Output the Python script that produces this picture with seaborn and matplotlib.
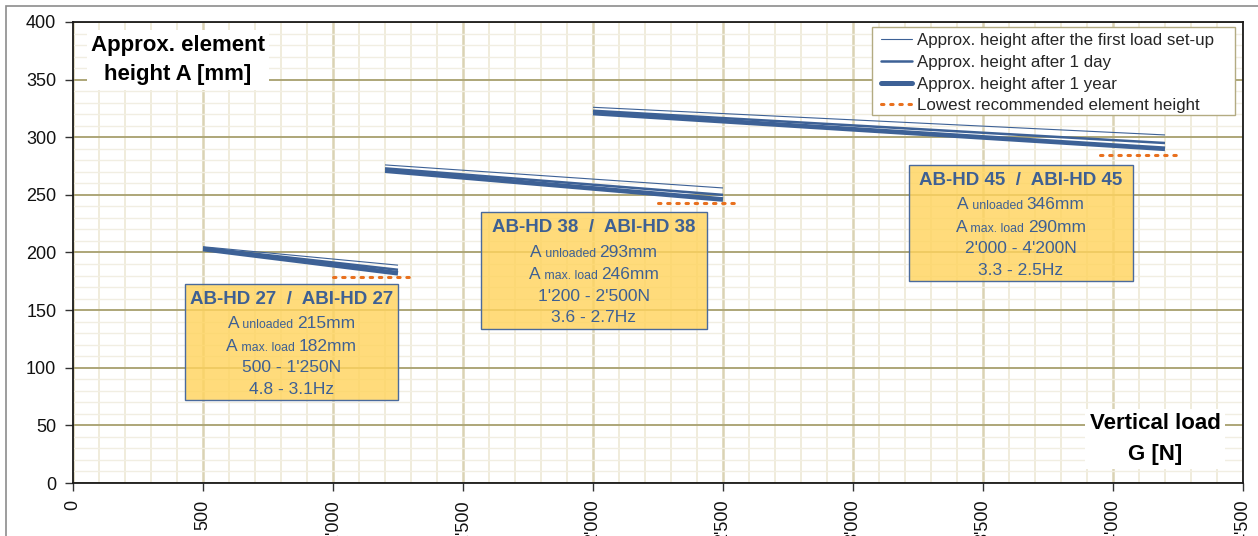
import matplotlib
matplotlib.use("Agg")
import matplotlib.pyplot as plt
import matplotlib.ticker as mticker
from matplotlib.patches import Rectangle
from matplotlib.lines import Line2D
import seaborn as sns
import pandas as pd

# ---------------- data ----------------
models = ["AB-HD 27  /  ABI-HD 27", "AB-HD 38  /  ABI-HD 38", "AB-HD 45  /  ABI-HD 45"]
load_start = [500, 1200, 2000]
load_end = [1250, 2500, 4200]
h_first_start = [205, 276, 326]
h_first_end = [189, 256, 302]
h_day_start = [204, 273, 323]
h_day_end = [185, 250, 295]
h_year_start = [203, 271, 321]
h_year_end = [182, 246, 290]
lowest_x0 = [1000, 2250, 3950]
lowest_x1 = [1300, 2550, 4250]
lowest_h = [179, 243, 285]

unloaded = ["215mm", "293mm", "346mm"]
maxload = ["182mm", "246mm", "290mm"]
load_range = ["500 - 1'250N", "1'200 - 2'500N", "2'000 - 4'200N"]
freq_range = ["4.8 - 3.1Hz", "3.6 - 2.7Hz", "3.3 - 2.5Hz"]
# info boxes (x0, x1, ytop, ybottom) in data units
box_x0 = [430, 1570, 3215]
box_x1 = [1250, 2437, 4075]
box_ytop = [173, 235, 276]
box_ybot = [72, 134, 175]

series_names = ["Approx. height after the first load set-up",
                "Approx. height after 1 day",
                "Approx. height after 1 year"]
lowest_name = "Lowest recommended element height"

x_ticks = [0, 500, 1000, 1500, 2000, 2500, 3000, 3500, 4000, 4500]
y_ticks = [0, 50, 100, 150, 200, 250, 300, 350, 400]

# ---------------- style ----------------
sns.set_style("white")
plt.rcParams["font.family"] = ["Liberation Sans", "DejaVu Sans"]

BLUE = "#3D6196"
ORANGE = "#E8701E"
TXT = "#3E6093"
W, H = 1258, 536

fig = plt.figure(figsize=(12.58, 5.36), dpi=100)
ax = fig.add_axes([73 / W, 1 - 483 / H, 1170 / W, 461 / H])

rows = []
starts = [h_first_start, h_day_start, h_year_start]
ends = [h_first_end, h_day_end, h_year_end]
for s, name in enumerate(series_names):
    for m in range(len(models)):
        rows.append(dict(series=name, model=m, load=load_start[m], h=starts[s][m]))
        rows.append(dict(series=name, model=m, load=load_end[m], h=ends[s][m]))
df = pd.DataFrame(rows)

widths = {series_names[0]: 0.8, series_names[1]: 1.8, series_names[2]: 3.4}
for name in series_names:
    sub = df[df.series == name]
    sns.lineplot(data=sub, x="load", y="h", units="model", estimator=None,
                 color=BLUE, lw=widths[name], ax=ax, legend=False, zorder=4,
                 solid_capstyle="butt")

low_rows = []
for m in range(len(models)):
    low_rows.append(dict(model=m, load=lowest_x0[m], h=lowest_h[m]))
    low_rows.append(dict(model=m, load=lowest_x1[m], h=lowest_h[m]))
ldf = pd.DataFrame(low_rows)
sns.lineplot(data=ldf, x="load", y="h", units="model", estimator=None,
             color=ORANGE, lw=2.2, ls=(0, (0.8, 2.2)), ax=ax, legend=False,
             zorder=4, dash_capstyle="round")

ax.set_xlim(0, 4500)
ax.set_ylim(0, 400)
ax.set_xlabel("")
ax.set_ylabel("")
ax.xaxis.set_major_locator(mticker.FixedLocator(x_ticks))
ax.yaxis.set_major_locator(mticker.FixedLocator(y_ticks))
ax.xaxis.set_minor_locator(mticker.MultipleLocator(100))
ax.yaxis.set_minor_locator(mticker.MultipleLocator(10))
ax.set_xticklabels([f"{v:,}".replace(",", "'") for v in x_ticks], rotation=90)
ax.tick_params(axis="both", which="major", labelsize=13, length=6, width=1,
               color="#333333", labelcolor="#111111", direction="out")
ax.tick_params(axis="y", which="major", pad=6, left=True)
ax.tick_params(axis="x", which="major", pad=6, bottom=True)
ax.tick_params(which="minor", length=0)

ax.grid(False)
ax.grid(axis="x", which="minor", color="#EEE9D6", lw=1.2, zorder=0)
ax.grid(axis="y", which="minor", color="#F1EEE2", lw=1.0, zorder=0)
ax.grid(axis="x", which="major", color="#DAD3B4", lw=1.8, zorder=0)
ax.grid(axis="y", which="major", color="#ADA678", lw=1.4, zorder=0)
ax.set_axisbelow(True)
for sp in ax.spines.values():
    sp.set_visible(True)
    sp.set_color("#1a1a1a")
    sp.set_linewidth(1.3)

# info boxes
fig.canvas.draw()
renderer = fig.canvas.get_renderer()
offsets = [15.5, 38.5, 61, 82.5, 104]
for m in range(len(models)):
    ax.add_patch(Rectangle((box_x0[m], box_ybot[m]), box_x1[m] - box_x0[m],
                           box_ytop[m] - box_ybot[m], facecolor="#FFD45E",
                           alpha=0.82, edgecolor="none", zorder=5))
    ax.add_patch(Rectangle((box_x0[m], box_ybot[m]), box_x1[m] - box_x0[m],
                           box_ytop[m] - box_ybot[m], facecolor="none",
                           edgecolor="#4A6A9C", lw=1.0, zorder=6))
    cx_disp, top_disp = ax.transData.transform(((box_x0[m] + box_x1[m]) / 2, box_ytop[m]))

    def place(parts, off):
        objs = []
        for t, sz in parts:
            o = ax.text(0, 0, t, fontsize=sz, color=TXT, ha="left", va="baseline",
                        transform=None, zorder=7)
            objs.append(o)
        ws = [o.get_window_extent(renderer).width for o in objs]
        total = sum(ws)
        x = cx_disp - total / 2
        for o, w in zip(objs, ws):
            o.set_position((x, top_disp - off - 6))
            x += w

    t = ax.text(0, 0, models[m], fontsize=13.5, fontweight="bold", color=TXT,
                ha="center", va="center", transform=None, zorder=7)
    t.set_position((cx_disp, top_disp - offsets[0]))
    place([("A", 12.5), (" unloaded ", 8.8), (unloaded[m], 12.5)], offsets[1])
    place([("A", 12.5), (" max. load ", 8.8), (maxload[m], 12.5)], offsets[2])
    place([(load_range[m], 12.5)], offsets[3])
    place([(freq_range[m], 12.5)], offsets[4])

# axis titles inside plot
ax.text((178 - 73) / 1170, (483 - 60) / 461,
        "Approx. element\nheight A [mm]", transform=ax.transAxes, fontsize=16,
        fontweight="bold", ha="center", va="center", linespacing=1.55,
        color="#000000", zorder=8,
        bbox=dict(facecolor="white", edgecolor="none", pad=3))
ax.text((1155 - 73) / 1170, (483 - 439) / 461, "Vertical load\nG [N]",
        transform=ax.transAxes, fontsize=16, fontweight="bold", ha="center",
        va="center", linespacing=1.6, color="#000000", zorder=8,
        bbox=dict(facecolor="white", edgecolor="none", pad=3))

# legend: frame drawn separately (Excel-like padding)
fig.add_artist(Rectangle((872 / W, 1 - 115 / H), (1235 - 872) / W, (115 - 27) / H,
                         transform=fig.transFigure, facecolor="white",
                         edgecolor="#B3AB82", lw=1.0, zorder=8))
handles = [Line2D([], [], color=BLUE, lw=0.8),
           Line2D([], [], color=BLUE, lw=1.8),
           Line2D([], [], color=BLUE, lw=3.6),
           Line2D([], [], color=ORANGE, lw=2.2, ls=(0, (0.8, 2.2)), dash_capstyle="round")]
leg = ax.legend(handles, series_names + [lowest_name], loc="upper left",
                bbox_to_anchor=((881 - 73) / 1170, (483 - 33) / 461),
                fontsize=12.2, frameon=False, handlelength=1.8, handletextpad=0.3,
                labelspacing=0.4, borderpad=0, borderaxespad=0)
leg.set_zorder(9)
leg.remove()
fig.add_artist(leg)

# outer frame
fig.add_artist(Rectangle((6 / W, -0.1), 1.2, (530 / H) + 0.1,
                         transform=fig.transFigure, fill=False,
                         edgecolor="#8C8C8C", lw=1.2))

fig.savefig("out.png", dpi=100)
